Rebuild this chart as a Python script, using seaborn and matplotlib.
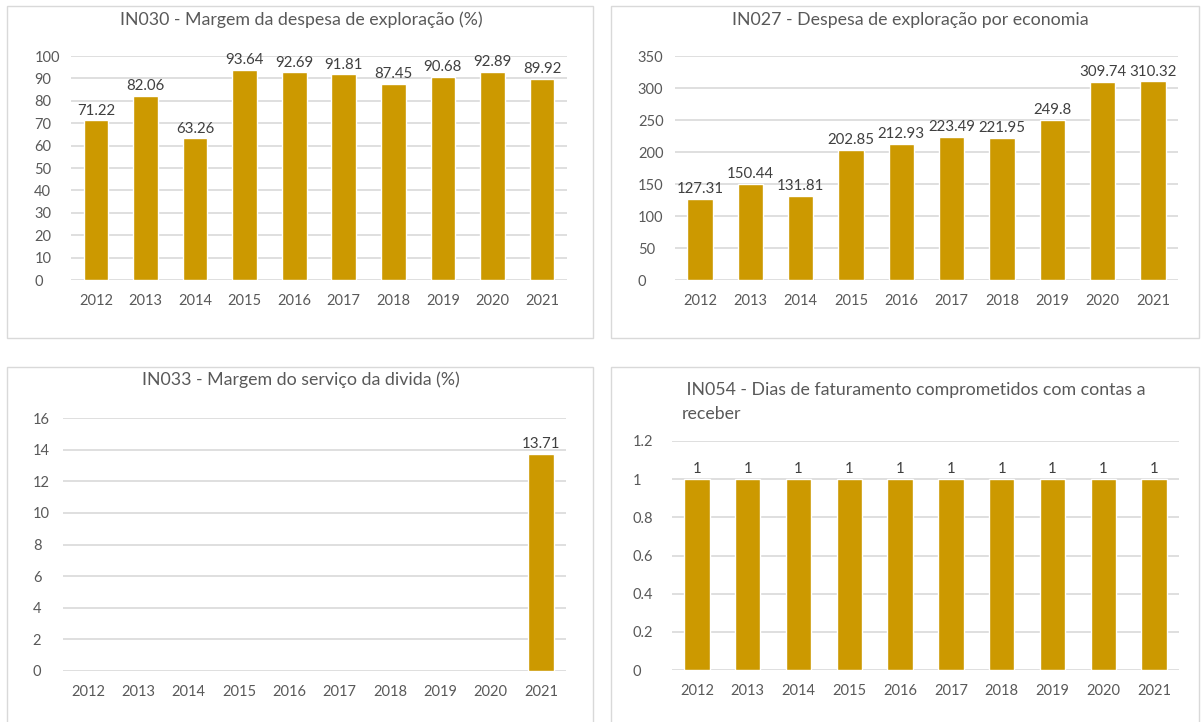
import matplotlib
matplotlib.use("Agg")
import matplotlib.pyplot as plt
from matplotlib.patches import Rectangle
from matplotlib.container import BarContainer
import numpy as np
import pandas as pd
import seaborn as sns

years = ["2012", "2013", "2014", "2015", "2016", "2017", "2018", "2019", "2020", "2021"]
in030 = [71.22, 82.06, 63.26, 93.64, 92.69, 91.81, 87.45, 90.68, 92.89, 89.92]
in027 = [127.31, 150.44, 131.81, 202.85, 212.93, 223.49, 221.95, 249.8, 309.74, 310.32]
in033 = [np.nan, np.nan, np.nan, np.nan, np.nan, np.nan, np.nan, np.nan, np.nan, 13.71]
in054 = [1, 1, 1, 1, 1, 1, 1, 1, 1, 1]

titles = [
    "IN030 - Margem da despesa de exploração (%)",
    "IN027 - Despesa de exploração por economia",
    "IN033 - Margem do serviço da divida (%)",
    " IN054 - Dias de faturamento comprometidos com contas a\nreceber",
]
yticks = [
    [0, 10, 20, 30, 40, 50, 60, 70, 80, 90, 100],
    [0, 50, 100, 150, 200, 250, 300, 350],
    [0, 2, 4, 6, 8, 10, 12, 14, 16],
    [0, 0.2, 0.4, 0.6, 0.8, 1, 1.2],
]
ytick_labels = [
    ["0", "10", "20", "30", "40", "50", "60", "70", "80", "90", "100"],
    ["0", "50", "100", "150", "200", "250", "300", "350"],
    ["0", "2", "4", "6", "8", "10", "12", "14", "16"],
    ["0", "0.2", "0.4", "0.6", "0.8", "1", "1.2"],
]
series = [in030, in027, in033, in054]

sns.set_theme(style="white")
plt.rcParams["font.family"] = ["Lato", "DejaVu Sans"]

W, H = 1201, 722
fig = plt.figure(figsize=(W / 100, H / 100), dpi=100)
fig.patch.set_facecolor("white")

BAR = "#CC9900"
GRID = "#D9D9D9"
TXT = "#595959"
LBL = "#404040"

# axes rectangles in pixel coords: left, right, y of top tick, y of zero
axes_px = [
    (71.2, 566.8, 56, 280),
    (674.8, 1178.2, 56, 280),
    (62.8, 566.2, 418, 671),
    (671.6, 1179.4, 441, 670),
]
panels_px = [
    (7, 6, 593, 338),
    (611, 6, 1199, 338),
    (7, 367, 593, 740),
    (611, 367, 1199, 740),
]
ypads = [26.6, 26.6, 21.6, 28.0]
title_pos = [
    (301.5, 20, "center"),
    (910, 20, "center"),
    (301, 380, "center"),
    (682, 402, "left"),
]

for i in range(4):
    x0, y0, x1, y1 = panels_px[i]
    fig.patches.append(Rectangle((x0 / W, 1 - y1 / H), (x1 - x0) / W, (y1 - y0) / H,
                                 transform=fig.transFigure, fill=False,
                                 edgecolor=GRID, linewidth=1.0))
    l, r, top, zero = axes_px[i]
    ax = fig.add_axes([l / W, 1 - zero / H, (r - l) / W, (zero - top) / H])
    df = pd.DataFrame({"year": years, "value": series[i]})
    sns.barplot(data=df, x="year", y="value", order=years, color=BAR,
                width=0.5, saturation=1, ax=ax, zorder=3)
    ax.set_xlim(-0.5, 9.5)
    ax.set_ylim(yticks[i][0], yticks[i][-1])
    ax.set_yticks(yticks[i])
    ax.set_yticklabels(ytick_labels[i])
    for t in ax.get_yticklabels():
        t.set_horizontalalignment("left")
    ax.tick_params(axis="y", length=0, pad=ypads[i], labelsize=10.5, labelcolor=TXT)
    ax.tick_params(axis="x", length=0, pad=10, labelsize=10.5, labelcolor=TXT)
    ax.set_xlabel("")
    ax.set_ylabel("")
    for s in ax.spines.values():
        s.set_visible(False)
    ax.yaxis.grid(True, color=GRID, linewidth=1.2, zorder=0)
    ax.set_axisbelow(True)
    ax.patch.set_alpha(0)
    bars = [b for b in ax.containers[0] if b is not None]
    vals = [v for v in series[i] if not (isinstance(v, float) and np.isnan(v))]
    cont = BarContainer(bars, datavalues=np.array(vals, dtype=float),
                        orientation="vertical")
    ax.bar_label(cont, labels=[f"{v:g}" for v in vals], padding=2,
                 fontsize=10.8, color=LBL)
    tx, ty, ha = title_pos[i]
    fig.text(tx / W, 1 - ty / H, titles[i], ha=ha, va="center", fontsize=12.8,
             color=TXT, linespacing=1.55)

fig.savefig("out.png", dpi=100, facecolor="white")
